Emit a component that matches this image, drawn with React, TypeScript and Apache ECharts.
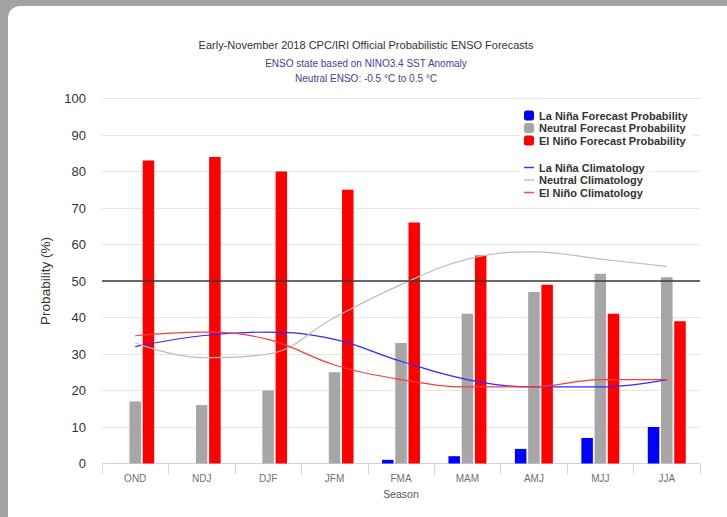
import React, { useEffect, useRef } from "react";
import * as echarts from "echarts";

const categories = ["OND", "NDJ", "DJF", "JFM", "FMA", "MAM", "AMJ", "MJJ", "JJA"];
const laNinaProb = [0, 0, 0, 0, 1, 2, 4, 7, 10];
const neutralProb = [17, 16, 20, 25, 33, 41, 47, 52, 51];
const elNinoProb = [83, 84, 80, 75, 66, 57, 49, 41, 39];
const laNinaClim = [32, 35, 36, 34, 28, 23, 21, 21, 23];
const neutralClim = [33, 29, 30, 40, 49, 56, 58, 56, 54];
const elNinoClim = [35, 36, 34, 27, 23, 21, 21, 23, 23];
const yTicks = { min: 0, max: 100, interval: 10 };
const thresholdValue = 50;

const titleText = "Early-November 2018 CPC/IRI Official Probabilistic ENSO Forecasts";
const subtitle1 = "ENSO state based on NINO3.4 SST Anomaly";
const subtitle2 = "Neutral ENSO: -0.5 °C to 0.5 °C";

const barNames = [
  "La Niña Forecast Probability",
  "Neutral Forecast Probability",
  "El Niño Forecast Probability",
];
const lineNames = ["La Niña Climatology", "Neutral Climatology", "El Niño Climatology"];

const FONT = "Liberation Sans";

export default function App() {
  const ref = useRef<HTMLDivElement>(null);
  useEffect(() => {
    if (!ref.current) return;
    const chart = echarts.init(ref.current, null, { renderer: "svg" });
    const barCommon = {
      type: "bar",
      barWidth: 11.5,
      barGap: "15%",
      z: 2,
    };
    const lineCommon = {
      type: "line",
      smooth: 0.4,
      symbol: "none",
      showSymbol: false,
      z: 4,
    };
    const legendText = { fontSize: 11, fontWeight: "bold", color: "#333333", fontFamily: FONT };
    chart.setOption({
      animation: false,
      backgroundColor: "#a2a2a2",
      textStyle: { fontFamily: FONT },
      graphic: [
        {
          type: "rect",
          z: -10,
          silent: true,
          shape: { x: 8, y: 6, width: 740, height: 530, r: 12 },
          style: { fill: "#ffffff" },
        },
        {
          type: "text",
          x: 366,
          y: 45,
          style: {
            text: titleText,
            textAlign: "center",
            textVerticalAlign: "middle",
            fontSize: 11,
            fontFamily: FONT,
            fill: "#333333",
          },
        },
        {
          type: "text",
          x: 366,
          y: 63,
          style: {
            text: subtitle1,
            textAlign: "center",
            textVerticalAlign: "middle",
            fontSize: 10,
            fontFamily: FONT,
            fill: "#4b3b9e",
          },
        },
        {
          type: "text",
          x: 366,
          y: 78,
          style: {
            text: subtitle2,
            textAlign: "center",
            textVerticalAlign: "middle",
            fontSize: 10,
            fontFamily: FONT,
            fill: "#4b3b9e",
          },
        },
      ],
      grid: { left: 102, right: 27, top: 98.5, bottom: 53.5, containLabel: false },
      legend: [
        {
          data: barNames,
          orient: "vertical",
          left: 520,
          top: 106,
          itemWidth: 10,
          itemHeight: 10,
          itemGap: 1.5,
          padding: [4, 6, 4, 4],
          backgroundColor: "#ffffff",
          textStyle: legendText,
          selectedMode: false,
        },
        {
          data: lineNames.map((n) => ({ name: n, icon: "rect" })),
          orient: "vertical",
          left: 520,
          top: 158,
          itemWidth: 10,
          itemHeight: 1.5,
          itemGap: 1.5,
          padding: [4, 6, 4, 4],
          backgroundColor: "#ffffff",
          textStyle: legendText,
          selectedMode: false,
        },
      ],
      xAxis: {
        type: "category",
        data: categories,
        name: "Season",
        nameLocation: "middle",
        nameGap: 25,
        nameTextStyle: { fontSize: 10.5, color: "#555555", fontFamily: FONT },
        axisLine: { lineStyle: { color: "#ccd6eb", width: 1 } },
        axisTick: { show: true, length: 11, lineStyle: { color: "#ccd6eb" } },
        axisLabel: { color: "#707070", fontSize: 10, margin: 10, fontFamily: FONT },
        splitLine: { show: false },
      },
      yAxis: {
        type: "value",
        min: yTicks.min,
        max: yTicks.max,
        interval: yTicks.interval,
        name: "Probability (%)",
        nameLocation: "middle",
        nameGap: 50,
        nameTextStyle: { fontSize: 13.5, color: "#333333", fontFamily: FONT },
        axisLine: { show: false },
        axisTick: { show: false },
        axisLabel: { color: "#333333", fontSize: 13, margin: 16, fontFamily: FONT },
        splitLine: { lineStyle: { color: "#e6e6e6", width: 1 } },
      },
      series: [
        { ...barCommon, name: barNames[0], data: laNinaProb, itemStyle: { color: "#0000ff" } },
        { ...barCommon, name: barNames[1], data: neutralProb, itemStyle: { color: "#a6a6a6" } },
        { ...barCommon, name: barNames[2], data: elNinoProb, itemStyle: { color: "#ff0000" } },
        {
          ...lineCommon,
          name: lineNames[0],
          data: laNinaClim,
          itemStyle: { color: "#3b3bff" },
          lineStyle: { color: "#2b2bff", width: 1.2 },
        },
        {
          ...lineCommon,
          name: lineNames[1],
          data: neutralClim,
          itemStyle: { color: "#c4c4c4" },
          lineStyle: { color: "#bdbdbd", width: 1.2 },
        },
        {
          ...lineCommon,
          name: lineNames[2],
          data: elNinoClim,
          itemStyle: { color: "#ff4b4b" },
          lineStyle: { color: "#ff3b3b", width: 1.2 },
          markLine: {
            silent: true,
            symbol: "none",
            label: { show: false },
            lineStyle: { color: "#3a3a3a", width: 1.6, type: "solid" },
            data: [{ yAxis: thresholdValue }],
            z: 5,
          },
        },
      ],
    });
    return () => chart.dispose();
  }, []);
  return (
    <div style={{ position: "fixed", left: 0, top: 0, width: 727, height: 517, overflow: "hidden" }}>
      <div ref={ref} style={{ width: 727, height: 517 }} />
    </div>
  );
}
